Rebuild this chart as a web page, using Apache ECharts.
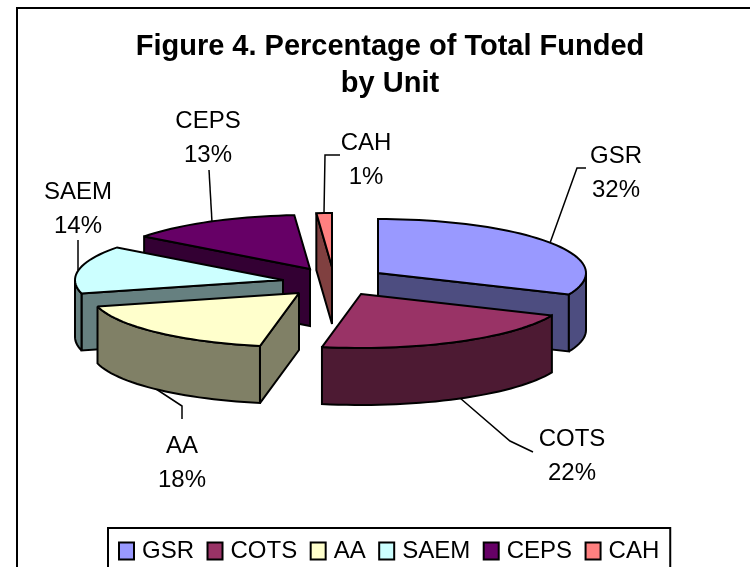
<!DOCTYPE html>
<html>
<head>
<meta charset="utf-8">
<title>Figure 4</title>
<script src="https://cdn.jsdelivr.net/npm/echarts@6/dist/echarts.min.js"></script>
<style>
  html, body { margin: 0; padding: 0; background: #fff; }
  #chart { width: 750px; height: 567px; }
</style>
</head>
<body>
<div id="chart"></div>
<script>
const categories = ['GSR', 'COTS', 'AA', 'SAEM', 'CEPS', 'CAH']
const funded = [31.5, 21.5, 18.0, 14.3, 13.49, 1.2]
const colors = ['#9999FF', '#993366', '#FFFFCC', '#CCFFFF', '#660066', '#FF8080']
const sideColors = ['#4D4D80', '#4D1A33', '#808066', '#668080', '#330033', '#804040']

// pie geometry
const RX = 208
const RY = 54
const DEPTH = 57
const FONT = '"Liberation Sans", Arial, sans-serif'
const apex = [[378, 273], [361, 294], [299, 293], [283, 280], [310, 269], [332, 267]]
const paintRank = [2, 4, 5, 3, 1, 0] // back slices first
const labelAt = [[616, 173], [572, 456], [182, 463], [78, 209], [208, 138], [366, 160]]
const leaders = [
  [[550, 243], [577, 168], [586, 168]],
  [[460, 398], [510, 441], [533, 452]],
  [[153, 387], [182, 406], [182, 419]],
  [[78, 270], [78, 240]],
  [[212, 222], [209, 170]],
  [[324, 213], [325, 155], [340, 155]],
]

const total = funded.reduce((a, b) => a + b, 0)
const toAngle = (v) => (v / total) * 2 * Math.PI

// clockwise from straight up, flattened into an ellipse
const onRim = (c, a, drop) => [c[0] + RX * Math.sin(a), c[1] - RY * Math.cos(a) + (drop || 0)]

const arc = (c, from, to, drop) => {
  const pts = []
  const steps = Math.max(2, Math.ceil((to - from) / 0.04))
  for (let i = 0; i <= steps; i++) {
    pts.push(onRim(c, from + ((to - from) * i) / steps, drop))
  }
  return pts
}

const face = (points, fill, z2) => ({
  type: 'polygon',
  z2,
  shape: { points },
  style: { fill, stroke: '#000', lineWidth: 2, lineJoin: 'miter', miterLimit: 2 },
})

const renderSlice = (idx) => () => {
  const start = toAngle(funded.slice(0, idx).reduce((a, b) => a + b, 0))
  const end = start + toAngle(funded[idx])
  const c = apex[idx]
  const low = [c[0], c[1] + DEPTH]
  const children = []

  if (Math.sin(start) < 0) {
    children.push(face([c, onRim(c, start), onRim(c, start, DEPTH), low], sideColors[idx], 1))
  }
  if (Math.sin(end) > 0) {
    children.push(face([c, onRim(c, end), onRim(c, end, DEPTH), low], sideColors[idx], 1))
  }
  const rimFrom = Math.max(start, Math.PI / 2)
  const rimTo = Math.min(end, (Math.PI * 3) / 2)
  if (rimTo > rimFrom) {
    const upper = arc(c, rimFrom, rimTo, 0)
    const lower = arc(c, rimFrom, rimTo, DEPTH).reverse()
    children.push(face(upper.concat(lower), sideColors[idx], 2))
  }
  children.push(face([c].concat(arc(c, start, end, 0)), colors[idx], 3))

  children.push({
    type: 'polyline',
    z2: 0,
    shape: { points: leaders[idx] },
    style: { fill: 'none', stroke: '#000', lineWidth: 1.5 },
  })
  children.push({
    type: 'text',
    z2: 4,
    style: {
      text: categories[idx] + '\n' + Math.round((funded[idx] / total) * 100) + '%',
      x: labelAt[idx][0],
      y: labelAt[idx][1],
      align: 'center',
      verticalAlign: 'middle',
      fontSize: 24,
      fontFamily: FONT,
      lineHeight: 34,
      fill: '#000',
    },
  })
  return { type: 'group', children }
}

const chart = echarts.init(document.getElementById('chart'), null, { renderer: 'canvas' })
chart.setOption({
  animation: false,
  backgroundColor: '#fff',
  title: {
    text: 'Figure 4. Percentage of Total Funded\nby Unit',
    left: 385,
    top: 23,
    textAlign: 'center',
    textStyle: {
      fontFamily: FONT,
      fontSize: 29,
      fontWeight: 'bold',
      lineHeight: 37,
      color: '#000',
    },
  },
  legend: {
    data: categories,
    left: 108,
    top: 528,
    padding: [11, 11, 30, 10],
    itemGap: 12.5,
    itemWidth: 15,
    itemHeight: 17,
    borderColor: '#000',
    borderWidth: 2,
    backgroundColor: '#fff',
    icon: 'rect',
    itemStyle: { borderColor: '#000', borderWidth: 2 },
    textStyle: { fontFamily: FONT, fontSize: 24, color: '#000', padding: [4, 0, 0, 3] },
    selectedMode: false,
  },
  graphic: [
    {
      type: 'polyline',
      silent: true,
      shape: { points: [[17, 567], [17, 8], [750, 8]] },
      style: { fill: 'none', stroke: '#000', lineWidth: 2 },
    },
  ],
  series: categories.map((name, idx) => ({
    name,
    type: 'custom',
    coordinateSystem: 'none',
    silent: true,
    z: 2 + paintRank[idx],
    itemStyle: { color: colors[idx] },
    renderItem: renderSlice(idx),
    data: [funded[idx]],
  })),
})
</script>
</body>
</html>
